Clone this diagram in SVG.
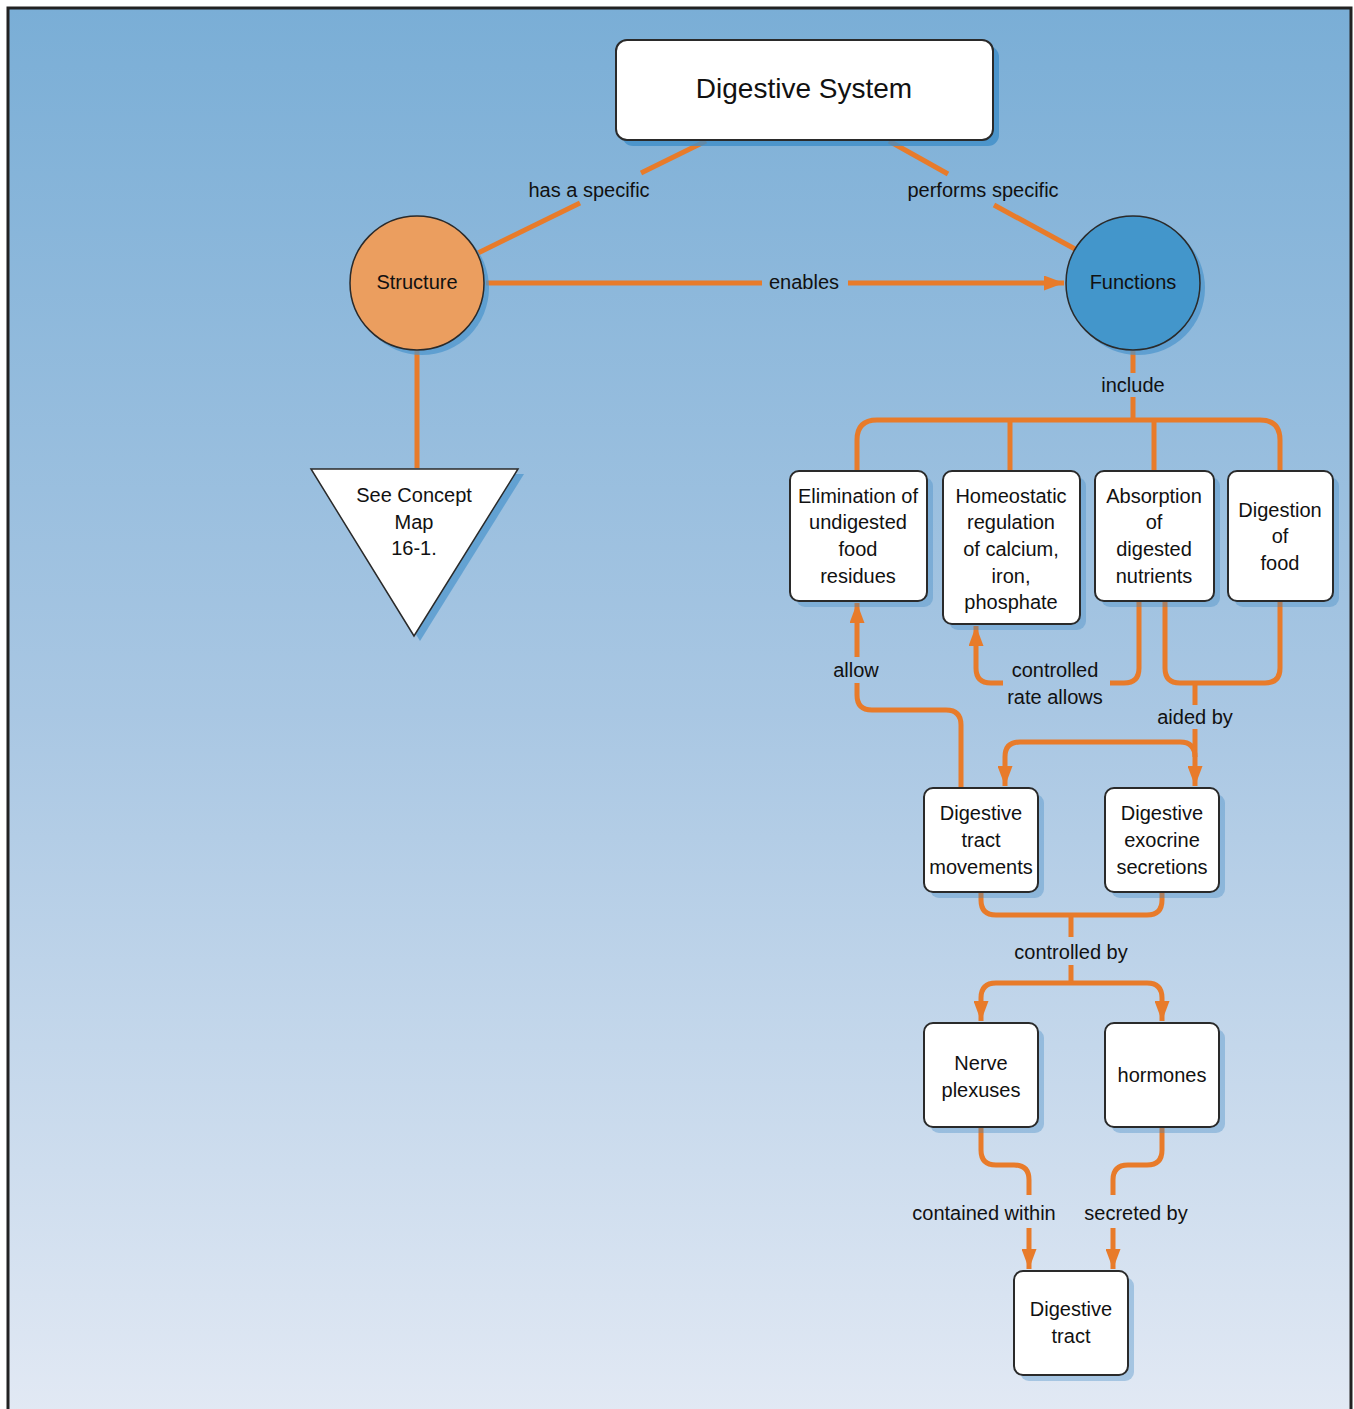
<svg xmlns="http://www.w3.org/2000/svg" width="1354" height="1409" viewBox="0 0 1354 1409">
<defs>
<linearGradient id="bg" x1="0" y1="0" x2="0" y2="1">
<stop offset="0" stop-color="#7aaed6"/>
<stop offset="0.5" stop-color="#a9c7e3"/>
<stop offset="1" stop-color="#e2e9f4"/>
</linearGradient>
<marker id="arr" markerUnits="userSpaceOnUse" markerWidth="20" markerHeight="15" viewBox="0 0 20 15" refX="20" refY="7.5" orient="auto">
<path d="M0,0 L20,7.5 L0,15 Z" fill="#e87b2a"/>
</marker>
</defs>
<style>
.box{fill:#fff;stroke:#2a2a2a;stroke-width:2}
.sh{fill:#3d86c4;opacity:0.35}
.con{fill:none;stroke:#e87b2a;stroke-width:5}
text{font-family:"Liberation Sans",Arial,sans-serif;font-size:20px;fill:#111;text-anchor:middle}
</style>
<rect x="0" y="0" width="1354" height="1409" fill="#fff"/>
<rect x="8" y="8" width="1343" height="1410" fill="url(#bg)" stroke="#222" stroke-width="3"/>

<g id="connectors">
<path class="con" d="M706,141 L641,173"/>
<path class="con" d="M580,203 L478,253"/>
<path class="con" d="M889,141 L948,174"/>
<path class="con" d="M994,205 L1075,249"/>
<path class="con" d="M486,283 L762,283"/>
<path class="con" d="M848,283 L1064,283" marker-end="url(#arr)"/>
<path class="con" d="M417,350 L417,468"/>
<path class="con" d="M1133,351 L1133,373"/>
<path class="con" d="M1133,397 L1133,420"/>
<path class="con" d="M857,471 L857,440 Q857,420 877,420 L1260,420 Q1280,420 1280,440 L1280,471"/>
<path class="con" d="M1010,420 L1010,471"/>
<path class="con" d="M1154,420 L1154,471"/>
<path class="con" d="M961,788 L961,725 Q961,710 946,710 L872,710 Q857,710 857,695 L857,683"/>
<path class="con" d="M857,657 L857,603" marker-end="url(#arr)"/>
<path class="con" d="M1139,601 L1139,668 Q1139,683 1124,683 L1110,683"/>
<path class="con" d="M1003,683 L991,683 Q976,683 976,668 L976,626" marker-end="url(#arr)"/>
<path class="con" d="M1165,601 L1165,668 Q1165,683 1180,683 L1265,683 Q1280,683 1280,668 L1280,601"/>
<path class="con" d="M1195,683 L1195,705"/>
<path class="con" d="M1195,729 L1195,786" marker-end="url(#arr)"/>
<path class="con" d="M1195,757 Q1195,742 1180,742 L1020,742 Q1005,742 1005,757 L1005,786" marker-end="url(#arr)"/>
<path class="con" d="M981,892 L981,900 Q981,915 996,915 L1147,915 Q1162,915 1162,900 L1162,892"/>
<path class="con" d="M1071,915 L1071,937"/>
<path class="con" d="M1071,965 L1071,983"/>
<path class="con" d="M1071,983 L996,983 Q981,983 981,998 L981,1021" marker-end="url(#arr)"/>
<path class="con" d="M1071,983 L1147,983 Q1162,983 1162,998 L1162,1021" marker-end="url(#arr)"/>
<path class="con" d="M981,1127 L981,1150 Q981,1165 996,1165 L1014,1165 Q1029,1165 1029,1180 L1029,1195"/>
<path class="con" d="M1029,1228 L1029,1269" marker-end="url(#arr)"/>
<path class="con" d="M1162,1127 L1162,1150 Q1162,1165 1147,1165 L1128,1165 Q1113,1165 1113,1180 L1113,1195"/>
<path class="con" d="M1113,1228 L1113,1269" marker-end="url(#arr)"/>
<text x="589" y="197">has a specific</text>
<text x="983" y="197">performs specific</text>
<text x="804" y="289">enables</text>
<text x="1133" y="392">include</text>
<text x="856" y="677">allow</text>
<text x="1055" y="677">controlled</text>
<text x="1055" y="704">rate allows</text>
<text x="1195" y="724">aided by</text>
<text x="1071" y="959">controlled by</text>
<text x="984" y="1220">contained within</text>
<text x="1136" y="1220">secreted by</text>
</g>

<g id="n-digestive-system">
<rect x="622" y="46" width="377" height="100" rx="11" fill="#3f8dc8" opacity="0.8"/>
<rect class="box" x="616" y="40" width="377" height="100" rx="11" stroke-width="2.5"/>
<text x="804" y="98" style="font-size:28px">Digestive System</text>
</g>
<g id="n-structure">
<circle cx="422" cy="288" r="67" fill="#4a94cc" opacity="0.7"/>
<circle cx="417" cy="283" r="67" fill="#eb9e5f" stroke="#2a2a2a" stroke-width="1.5"/>
<text x="417" y="289">Structure</text>
</g>
<g id="n-functions">
<circle cx="1138" cy="288" r="67" fill="#4a94cc" opacity="0.7"/>
<circle cx="1133" cy="283" r="67" fill="#4396cb" stroke="#2a2a2a" stroke-width="1.5"/>
<text x="1133" y="289">Functions</text>
</g>
<g id="n-see-concept">
<polygon points="317,474 524,474 420,641" fill="#4a94cc" opacity="0.7"/>
<polygon points="311,469 518,469 414,636" fill="#fff" stroke="#2a2a2a" stroke-width="1.5"/>
<text x="414" y="502">See Concept</text>
<text x="414" y="529">Map</text>
<text x="414" y="555">16-1.</text>
</g>
<g id="n-elimination">
<rect class="sh" x="796" y="477" width="137" height="130" rx="9"/>
<rect class="box" x="790" y="471" width="137" height="130" rx="9"/>
<text x="858" y="503">Elimination of</text>
<text x="858" y="529">undigested</text>
<text x="858" y="556">food</text>
<text x="858" y="583">residues</text>
</g>
<g id="n-homeostatic">
<rect class="sh" x="949" y="477" width="137" height="153" rx="9"/>
<rect class="box" x="943" y="471" width="137" height="153" rx="9"/>
<text x="1011" y="503">Homeostatic</text>
<text x="1011" y="529">regulation</text>
<text x="1011" y="556">of calcium,</text>
<text x="1011" y="583">iron,</text>
<text x="1011" y="609">phosphate</text>
</g>
<g id="n-absorption">
<rect class="sh" x="1101" y="477" width="119" height="130" rx="9"/>
<rect class="box" x="1095" y="471" width="119" height="130" rx="9"/>
<text x="1154" y="503">Absorption</text>
<text x="1154" y="529">of</text>
<text x="1154" y="556">digested</text>
<text x="1154" y="583">nutrients</text>
</g>
<g id="n-digestion">
<rect class="sh" x="1234" y="477" width="105" height="130" rx="9"/>
<rect class="box" x="1228" y="471" width="105" height="130" rx="9"/>
<text x="1280" y="517">Digestion</text>
<text x="1280" y="543">of</text>
<text x="1280" y="570">food</text>
</g>
<g id="n-tract-movements">
<rect class="sh" x="930" y="794" width="114" height="104" rx="9"/>
<rect class="box" x="924" y="788" width="114" height="104" rx="9"/>
<text x="981" y="820">Digestive</text>
<text x="981" y="847">tract</text>
<text x="981" y="874">movements</text>
</g>
<g id="n-exocrine">
<rect class="sh" x="1111" y="794" width="114" height="104" rx="9"/>
<rect class="box" x="1105" y="788" width="114" height="104" rx="9"/>
<text x="1162" y="820">Digestive</text>
<text x="1162" y="847">exocrine</text>
<text x="1162" y="874">secretions</text>
</g>
<g id="n-nerve">
<rect class="sh" x="930" y="1029" width="114" height="104" rx="9"/>
<rect class="box" x="924" y="1023" width="114" height="104" rx="9"/>
<text x="981" y="1070">Nerve</text>
<text x="981" y="1097">plexuses</text>
</g>
<g id="n-hormones">
<rect class="sh" x="1111" y="1029" width="114" height="104" rx="9"/>
<rect class="box" x="1105" y="1023" width="114" height="104" rx="9"/>
<text x="1162" y="1082">hormones</text>
</g>
<g id="n-digestive-tract">
<rect class="sh" x="1020" y="1277" width="114" height="104" rx="9"/>
<rect class="box" x="1014" y="1271" width="114" height="104" rx="9"/>
<text x="1071" y="1316">Digestive</text>
<text x="1071" y="1343">tract</text>
</g>
</svg>
